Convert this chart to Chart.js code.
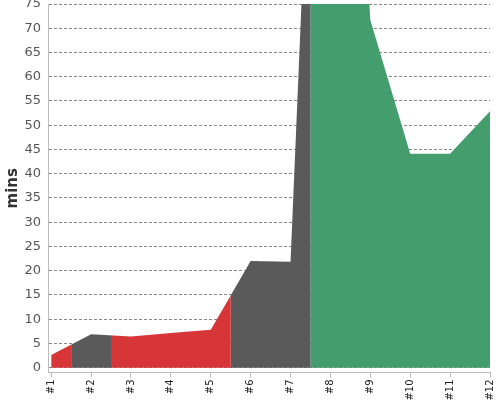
<!DOCTYPE html>
<html><head><meta charset="utf-8">
<script src="https://cdn.jsdelivr.net/npm/chart.js@4.4.0/dist/chart.umd.min.js"></script>
<style>html,body{margin:0;padding:0;background:#fff}#wrap{width:500px;height:400px;position:relative}</style>
</head><body><div id="wrap"><canvas id="c"></canvas></div>
<script>
const categories = ['#1','#2','#3','#4','#5','#6','#7','#8','#9','#10','#11','#12'];
const minutes = [2.6, 6.9, 6.4, 7.15, 7.8, 22.0, 21.85, 216, 71.7, 44.1, 44.1, 52.9];
const statusGroups = ['red','grey','red','red','red','grey','grey','green','green','green','green','green'];
const yTickValues = [0,5,10,15,20,25,30,35,40,45,50,55,60,65,70,75];
const groupColors = {red:'#d63638', grey:'#5a5a5a', green:'#449d6d'};
const groupNames = ['red','grey','green'];

const bandClip = {
  id: 'bandClip',
  beforeDatasetDraw(chart, args) {
    const ds = chart.data.datasets[args.index];
    const xs = chart.scales.x, a = chart.chartArea, ctx = chart.ctx;
    ctx.save();
    ctx.beginPath();
    statusGroups.forEach((g, i) => {
      if (g === ds.group) {
        const l = Math.max(a.left, xs.getPixelForValue(i - 0.5));
        const r = Math.min(a.right, xs.getPixelForValue(i + 0.5));
        ctx.rect(l, a.top, r - l, a.bottom - a.top);
      }
    });
    ctx.clip();
  },
  afterDatasetDraw(chart) { chart.ctx.restore(); }
};
if (Chart.Filler) { Chart.unregister(Chart.Filler); Chart.register(bandClip, Chart.Filler); }
else { Chart.register(bandClip); }

const points = minutes.map((v, i) => ({x: i, y: v}));
const datasets = groupNames.map(g => ({
  group: g,
  data: points,
  backgroundColor: groupColors[g],
  borderWidth: 0,
  pointRadius: 0,
  fill: 'origin',
  tension: 0
}));

new Chart(document.getElementById('c'), {
  type: 'line',
  data: { datasets },
  options: {
    responsive: true, maintainAspectRatio: false, animation: false,
    layout: { padding: { top: 4, right: 10, left: 0, bottom: 0 } },
    plugins: { legend: { display: false }, tooltip: { enabled: false } },
    scales: {
      x: {
        type: 'linear', min: -0.08, max: 11,
        afterBuildTicks: s => { s.ticks = categories.map((c, i) => ({value: i})); },
        afterFit: s => { s.paddingLeft = 0; s.paddingRight = 0; s.height = 27.5; },
        grid: { drawOnChartArea: false, color: '#bbbbbb', tickLength: 5 },
        border: { color: '#bbbbbb' },
        ticks: {
          minRotation: 90, maxRotation: 90, autoSkip: false, padding: 2,
          color: '#222', font: { family: 'DejaVu Sans', size: 10 },
          callback: v => categories[v]
        }
      },
      y: {
        type: 'linear', min: -1, max: 75, z: 1,
        afterBuildTicks: s => { s.ticks = yTickValues.map(v => ({value: v})); },
        afterFit: s => { s.paddingTop = 0; s.paddingBottom = 0; s.width = 48; },
        grid: { color: '#8a8a8a', drawTicks: false },
        border: { color: '#bbbbbb', dash: [3, 2] },
        ticks: { padding: 7, color: '#555', font: { family: 'DejaVu Sans', size: 13 } },
        title: { display: true, text: 'mins', color: '#333', padding: { top: 4, bottom: 0 },
                 font: { family: 'DejaVu Sans', size: 15, weight: 'bold' } }
      }
    }
  }
});
</script></body></html>
